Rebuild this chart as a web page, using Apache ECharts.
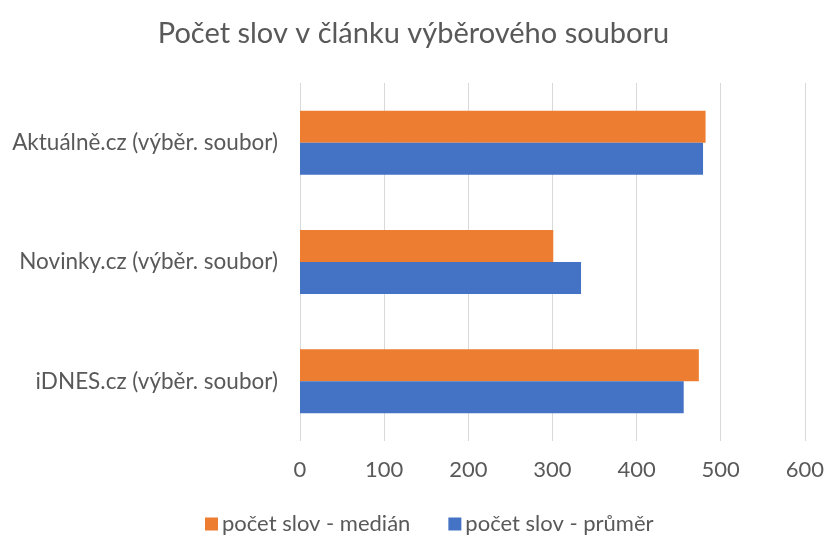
<!DOCTYPE html>
<html><head><meta charset="utf-8">
<script src="https://cdn.jsdelivr.net/npm/echarts@6/dist/echarts.min.js"></script>
<style>html,body{margin:0;padding:0;background:#fff}#c{width:827px;height:536px}</style>
</head><body><div id="c"></div>
<script>
const categories = ['iDNES.cz (výběr. soubor)', 'Novinky.cz (výběr. soubor)', 'Aktuálně.cz (výběr. soubor)'];
const medianValues = [474, 301, 482];
const meanValues = [456, 334, 479];
const xTicks = [0, 100, 200, 300, 400, 500, 600];
const seriesNames = ['počet slov - medián', 'počet slov - průměr'];

const font = 'Lato';
const chart = echarts.init(document.getElementById('c'));
chart.setOption({
  animation: false,
  title: {
    text: 'Počet slov v článku výběrového souboru',
    left: 'center', top: 14,
    textStyle: {fontFamily: font, fontSize: 29, fontWeight: 'normal', color: '#595959'}
  },
  legend: {
    top: 508, left: 200,
    data: seriesNames,
    itemWidth: 13, itemHeight: 13, itemGap: 38,
    icon: 'rect',
    textStyle: {fontFamily: font, fontSize: 22, color: '#595959', padding: [0, 0, 0, -1]}
  },
  grid: {left: 300, right: 20, top: 83, bottom: 95, containLabel: false},
  xAxis: {
    type: 'value', min: xTicks[0], max: xTicks[xTicks.length - 1], interval: 100,
    axisLine: {show: false}, axisTick: {show: false},
    splitLine: {lineStyle: {color: '#D9D9D9', width: 1}},
    axisLabel: {fontFamily: font, fontSize: 22, color: '#595959', margin: 18}
  },
  yAxis: {
    type: 'category', data: categories,
    axisLine: {show: false}, axisTick: {show: false},
    axisLabel: {fontFamily: font, fontSize: 22.5, color: '#595959', margin: 22}
  },
  series: [
    {name: seriesNames[0], type: 'bar', data: medianValues, barWidth: 32, barGap: '0%',
     itemStyle: {color: '#ED7D31'}},
    {name: seriesNames[1], type: 'bar', data: meanValues, barWidth: 32, barGap: '0%',
     itemStyle: {color: '#4472C4'}}
  ]
});
</script></body></html>
